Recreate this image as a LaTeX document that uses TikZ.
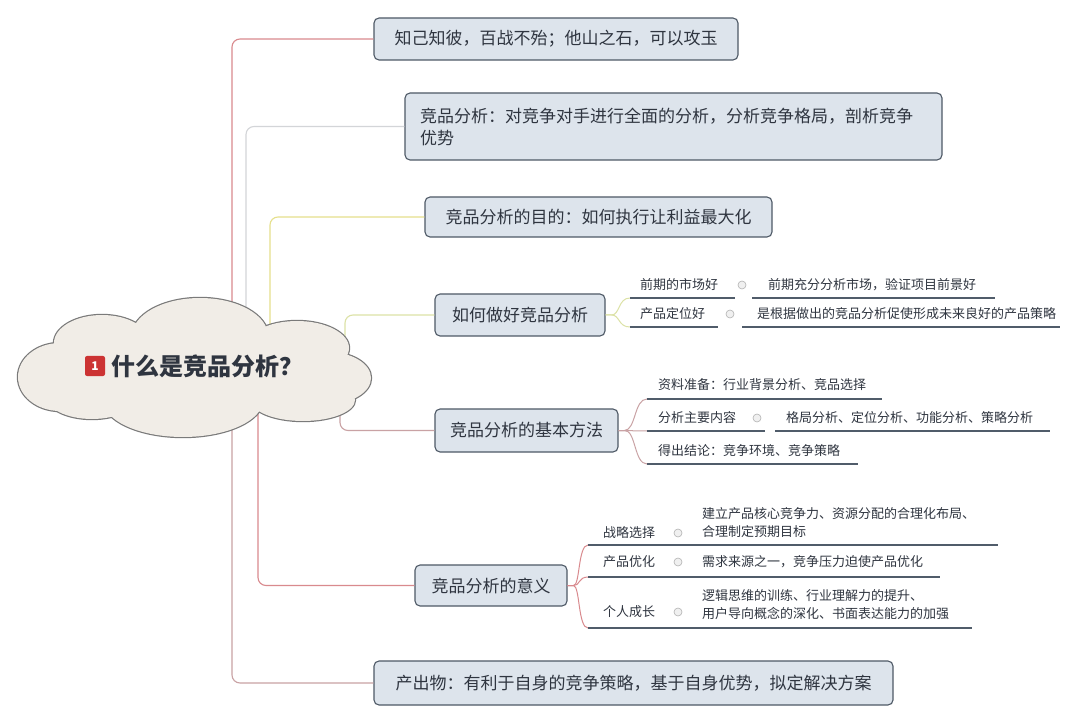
\documentclass[tikz,border=0pt]{standalone}
\usepackage{fontspec}
\setmainfont{Noto Sans CJK SC}
\definecolor{boxfill}{HTML}{DDE4EC}
\definecolor{boxline}{HTML}{4E5966}
\definecolor{txt}{HTML}{2F3540}
\definecolor{ul}{HTML}{505C6A}
\definecolor{redc}{HTML}{D98A8E}
\definecolor{pinkg}{HTML}{C9A2A4}
\definecolor{grayc}{HTML}{D3D5D8}
\definecolor{yelc}{HTML}{E6E08C}
\definecolor{ygc}{HTML}{DCE2A6}
\definecolor{cloudfill}{HTML}{F1EDE7}
\definecolor{cloudline}{HTML}{7A7A7A}
\begin{document}
\begin{tikzpicture}[x=1pt,y=-1pt,
  topic/.style={draw=boxline, fill=boxfill, rounded corners=5pt, line width=1.1pt,
    font=\fontsize{17}{22}\selectfont, text=txt, inner sep=0pt},
  sub/.style={font=\fontsize{13}{17}\selectfont, text=txt, anchor=west, inner sep=0pt},
  uline/.style={line width=1.6pt, draw=ul},
  noteicon/.style={circle, draw=gray!60, fill=gray!12, minimum size=8pt, inner sep=0pt, line width=0.6pt},
  conn/.style={line width=1.1pt, rounded corners=8pt},
  fork/.style={line width=1pt},
]
\useasboundingbox[fill=white] (0,0) rectangle (1080,722);

% main topics
\node[topic, minimum width=364pt, minimum height=42pt] (b1) at (556,39) {知己知彼，百战不殆；他山之石，可以攻玉};
\node[topic, minimum width=537pt, minimum height=67pt, align=left, text width=507pt] (b2) at (673.5,126.5)
  {竞品分析：对竞争对手进行全面的分析，分析竞争格局，剖析竞争\\优势};
\node[topic, minimum width=347pt, minimum height=40pt] (b3) at (598.5,217) {竞品分析的目的：如何执行让利益最大化};
\node[topic, minimum width=170pt, minimum height=42pt] (b4) at (520,315) {如何做好竞品分析};
\node[topic, minimum width=183pt, minimum height=43pt] (b5) at (526.5,430.5) {竞品分析的基本方法};
\node[topic, minimum width=152pt, minimum height=41pt] (b6) at (491,585.5) {竞品分析的意义};
\node[topic, minimum width=519pt, minimum height=44pt] (b7) at (633.5,683) {产出物：有利于自身的竞争策略，基于自身优势，拟定解决方案};

% connectors from the root
\coordinate (r1) at (232,370);
\coordinate (r2) at (246,370);
\coordinate (r3) at (270,370);
\coordinate (r4) at (345,370);
\coordinate (r5) at (340,370);
\coordinate (r6) at (258,370);
\coordinate (r7) at (232,372);
\draw[conn, draw=redc] (r1) |- (b1.west);
\draw[conn, draw=grayc] (r2) |- (b2.west);
\draw[conn, draw=yelc] (r3) |- (b3.west);
\draw[conn, draw=ygc] (r4) |- (b4.west);
\draw[conn, draw=pinkg] (r5) |- (b5.west);
\draw[conn, draw=redc] (r6) |- (b6.west);
\draw[conn, draw=pinkg] (r7) |- (b7.west);

% cloud (root)
\begin{scope}
  \def\puffs{%
    (60,377) ellipse [x radius=42, y radius=34]
    (102,343) ellipse [x radius=48, y radius=28]
    (200,336) ellipse [x radius=68, y radius=38]
    (297,348) ellipse [x radius=52, y radius=27]
    (328,378) ellipse [x radius=43, y radius=26]
    (303,400) ellipse [x radius=52, y radius=21]
    (183,400) ellipse [x radius=80, y radius=37]
    (92,396) ellipse [x radius=46, y radius=23]
    (195,372) ellipse [x radius=150, y radius=40]}
  \draw[cloudline, line width=2.4pt] \puffs;
  \fill[cloudfill] \puffs;
\end{scope}
\node[fill=red!75!black!80, rounded corners=2pt, minimum size=20pt, inner sep=0pt,
  text=white, font=\bfseries\fontsize{12}{12}\selectfont] (ricon) at (95,366) {1};
\node[anchor=west, inner sep=0pt, text=txt, font=\bfseries\fontsize{24}{28}\selectfont] (root) at (111,366) {什么是竞品分析？};

% ---- children of b4
\coordinate (u41) at (630,298);
\coordinate (u42) at (630,327);
\draw[fork, draw=ygc] (b4.east) -- ++(6,0) .. controls (620,315) and (618,298) .. (u41);
\draw[fork, draw=ygc] (b4.east) -- ++(6,0) .. controls (620,315) and (618,327) .. (u42);
\node[sub] (s41) at (640,285) {前期的市场好};
\node[noteicon] (i41) at (742,285) {};
\node[sub] (d41) at (768,285) {前期充分分析市场，验证项目前景好};
\draw[uline] (u41) -- (735,298);
\draw[uline] (752,298) -- (995,298);
\node[sub] (s42) at (640,314) {产品定位好};
\node[noteicon] (i42) at (730,314) {};
\node[sub] (d42) at (757,314) {是根据做出的竞品分析促使形成未来良好的产品策略};
\draw[uline] (u42) -- (718,327);
\draw[uline] (742,327) -- (1060,327);

% ---- children of b5
\coordinate (u51) at (647,399);
\coordinate (u52) at (647,431);
\coordinate (u53) at (647,464);
\draw[fork, draw=pinkg] (b5.east) -- ++(6,0) .. controls (636,430) and (634,399) .. (u51);
\draw[fork, draw=pinkg] (b5.east) -- (u52);
\draw[fork, draw=pinkg] (b5.east) -- ++(6,0) .. controls (636,430) and (634,464) .. (u53);
\node[sub] (s51) at (658,385) {资料准备：行业背景分析、竞品选择};
\draw[uline] (u51) -- (882,399);
\node[sub] (s52) at (658,418) {分析主要内容};
\node[noteicon] (i52) at (757,418) {};
\node[sub] (d52) at (786,418) {格局分析、定位分析、功能分析、策略分析};
\draw[uline] (u52) -- (765,431);
\draw[uline] (775,431) -- (1050,431);
\node[sub] (s53) at (658,451) {得出结论：竞争环境、竞争策略};
\draw[uline] (u53) -- (858,464);

% ---- children of b6
\coordinate (u61) at (588,545);
\coordinate (u62) at (588,577);
\coordinate (u63) at (588,628);
\draw[fork, draw=redc] (b6.east) -- ++(6,0) .. controls (580,586) and (578,545) .. (u61);
\draw[fork, draw=redc] (b6.east) -- ++(6,0) .. controls (580,586) and (578,577) .. (u62);
\draw[fork, draw=redc] (b6.east) -- ++(6,0) .. controls (580,586) and (578,628) .. (u63);
\node[sub] (s61) at (603,533) {战略选择};
\node[noteicon] (i61) at (678,533) {};
\node[sub, align=left, font=\fontsize{13}{18}\selectfont] (d61) at (702,523)
  {建立产品核心竞争力、资源分配的合理化布局、\\合理制定预期目标};
\draw[uline] (u61) -- (998,545);
\node[sub] (s62) at (603,562) {产品优化};
\node[noteicon] (i62) at (678,562) {};
\node[sub] (d62) at (702,562) {需求来源之一，竞争压力迫使产品优化};
\draw[uline] (u62) -- (940,577);
\node[sub] (s63) at (603,612) {个人成长};
\node[noteicon] (i63) at (678,612) {};
\node[sub, align=left, font=\fontsize{13}{18}\selectfont] (d63) at (702,605)
  {逻辑思维的训练、行业理解力的提升、\\用户导向概念的深化、书面表达能力的加强};
\draw[uline] (u63) -- (972,628);
\end{tikzpicture}
\end{document}
